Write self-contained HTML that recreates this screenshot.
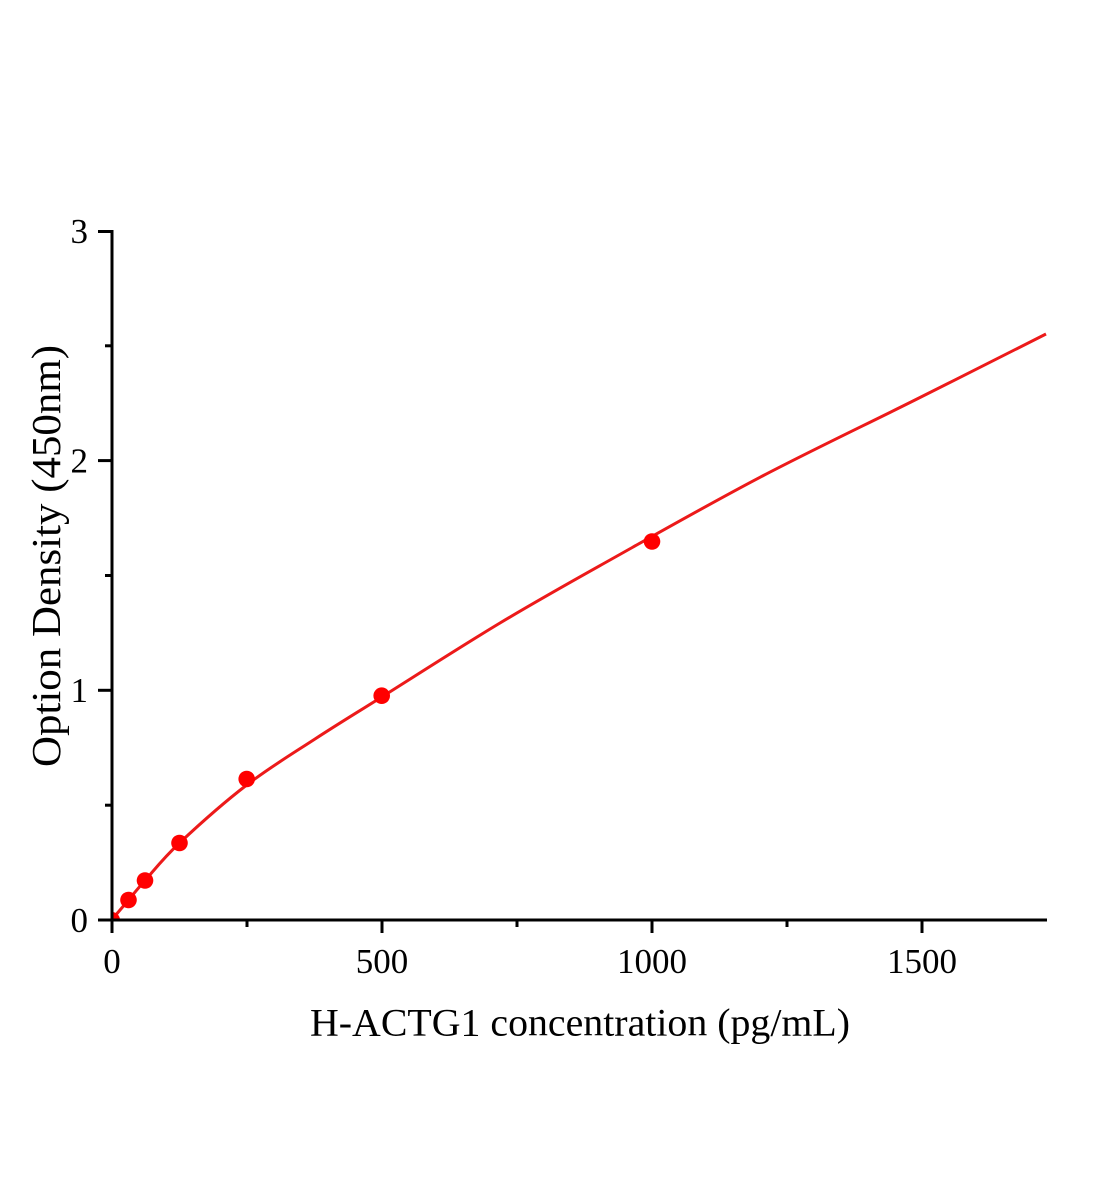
<!DOCTYPE html>
<html>
<head>
<meta charset="utf-8">
<style>
  html, body { margin: 0; padding: 0; background: #ffffff; }
  svg { display: block; }
  text { font-family: "Liberation Serif", "Times New Roman", serif; fill: #000; }
</style>
</head>
<body>
<svg width="1104" height="1200" viewBox="0 0 1104 1200" xmlns="http://www.w3.org/2000/svg">
  <rect x="0" y="0" width="1104" height="1200" fill="#ffffff"/>
  <defs>
    <clipPath id="plot">
      <rect x="112" y="200" width="940" height="720"/>
    </clipPath>
  </defs>

  <!-- curve -->
  <path d="M112,919.5 C114.75,916.25 123,906.5 128.5,900
           C134,893.5 136.5,890 145,880.5
           C153.5,871 162.55,858.92 179.5,843
           C196.45,827.08 224.12,802.33 246.7,785
           C269.28,767.67 292.5,753.67 315,739
           C337.5,724.33 350.87,716.33 381.7,697
           C412.53,677.67 461.95,645.83 500,623
           C538.05,600.17 566.67,584.28 610,560
           C653.33,535.72 709.17,503.97 760,477.3
           C810.83,450.63 867.33,423.88 915,400
           C962.67,376.12 1024.17,345 1046,334"
        fill="none" stroke="#ec1a1a" stroke-width="3" clip-path="url(#plot)"/>

  <!-- markers -->
  <g fill="#ff0000">
    <circle cx="112" cy="920" r="8" clip-path="url(#plot)"/>
    <circle cx="128.5" cy="900" r="8.3"/>
    <circle cx="145" cy="880.5" r="8.3"/>
    <circle cx="179.5" cy="843" r="8.3"/>
    <circle cx="246.7" cy="779" r="8.3"/>
    <circle cx="381.7" cy="695.7" r="8.3"/>
    <circle cx="652" cy="541.5" r="8.3"/>
  </g>

  <!-- axes -->
  <g stroke="#000" stroke-width="3" fill="none">
    <line x1="112" y1="230" x2="112" y2="921.5"/>
    <line x1="110.5" y1="920" x2="1047" y2="920"/>
    <!-- y major ticks -->
    <line x1="98" y1="920" x2="112" y2="920"/>
    <line x1="98" y1="690.3" x2="112" y2="690.3"/>
    <line x1="98" y1="460.6" x2="112" y2="460.6"/>
    <line x1="98" y1="231.5" x2="112" y2="231.5"/>
    <!-- y minor ticks -->
    <line x1="105" y1="805.2" x2="112" y2="805.2"/>
    <line x1="105" y1="575.5" x2="112" y2="575.5"/>
    <line x1="105" y1="345.8" x2="112" y2="345.8"/>
    <!-- x major ticks -->
    <line x1="112" y1="920" x2="112" y2="933"/>
    <line x1="382" y1="920" x2="382" y2="933"/>
    <line x1="652" y1="920" x2="652" y2="933"/>
    <line x1="922" y1="920" x2="922" y2="933"/>
    <!-- x minor ticks -->
    <line x1="247" y1="920" x2="247" y2="927"/>
    <line x1="517" y1="920" x2="517" y2="927"/>
    <line x1="787" y1="920" x2="787" y2="927"/>
  </g>

  <!-- y tick labels -->
  <g font-size="35" text-anchor="end">
    <text x="88" y="932">0</text>
    <text x="88" y="702">1</text>
    <text x="88" y="472.5">2</text>
    <text x="88" y="243">3</text>
  </g>

  <!-- x tick labels -->
  <g font-size="35" text-anchor="middle">
    <text x="112" y="973">0</text>
    <text x="382" y="973">500</text>
    <text x="652" y="973">1000</text>
    <text x="922" y="973">1500</text>
  </g>

  <!-- axis titles -->
  <text x="310" y="1035.5" font-size="39" textLength="540" lengthAdjust="spacingAndGlyphs">H-ACTG1 concentration (pg/mL)</text>
  <text transform="translate(60,767) rotate(-90)" x="0" y="0" font-size="41" textLength="422" lengthAdjust="spacingAndGlyphs">Option Density (450nm)</text>
</svg>
</body>
</html>
